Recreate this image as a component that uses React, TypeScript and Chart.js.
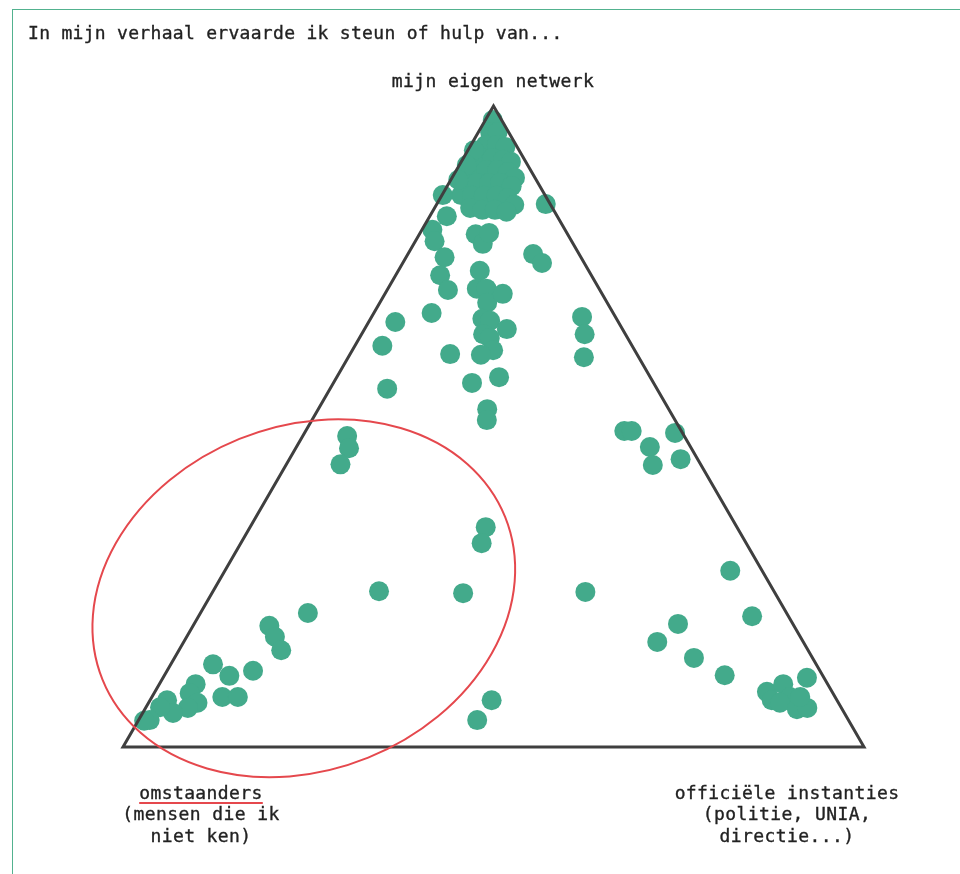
import React, { useEffect, useRef } from "react";
import { Chart, registerables } from "chart.js";

Chart.register(...registerables);

// Ternary shares (in %) per story: "mijn eigen netwerk" (top) and
// "officiële instanties" (right). "omstaanders" (left) = 100 - netwerk - officieel.
const netwerk = [
  97.8, 95.9, 95.9, 93.9, 93.9, 93.6, 91.9, 91.9, 91.6, 91.3,
  90.0, 90.0, 90.0, 89.7, 88.8, 88.1, 88.0, 88.0, 88.0, 87.5,
  86.1, 86.0, 86.0, 86.0, 85.6, 84.6, 84.1, 83.8, 83.8, 83.5,
  86.1, 82.8, 80.7, 78.9, 80.0, 78.5, 80.2, 84.7, 76.9, 75.5,
  76.4, 73.6, 71.3, 74.3, 71.5, 71.5, 69.3, 70.7, 66.8, 66.5,
  64.4, 63.8, 65.2, 61.9, 61.2, 61.3, 67.7, 66.3, 62.6, 55.9,
  56.8, 57.7, 52.7, 51.0,
  67.1, 64.4, 60.8,
  49.3, 49.3, 46.8, 44.0, 49.0, 44.9,
  48.5, 46.6, 44.1,
  34.3, 31.8, 24.3, 24.0, 24.2,
  7.3, 4.2,
  20.9, 18.9, 17.2, 15.1, 12.9, 11.1, 11.9, 7.8, 7.8, 9.8,
  8.4, 6.9, 6.1, 7.3, 5.3, 6.2, 4.2, 4.1,
  27.5, 20.4, 19.2, 16.4, 13.9, 11.2, 10.8, 8.6, 9.8, 7.8,
  7.3, 6.9, 5.9, 6.1, 7.8,
  93.1, 90.8, 88.5,
];

const officieel = [
  1.0, 1.6, 2.6, 2.0, 3.5, 4.8, 2.4, 3.9, 5.5, 6.7,
  2.5, 4.0, 5.5, 7.1, 8.5, 2.2, 3.8, 5.4, 6.9, 8.7,
  2.6, 4.1, 5.7, 7.4, 9.1, 10.5, 4.8, 6.6, 8.3, 10.0,
  0.1, 2.3, 1.4, 2.6, 7.6, 9.3, 9.3, 14.7, 16.9, 18.8,
  5.2, 6.0, 8.2, 11.0, 12.0, 13.3, 14.5, 15.9, 15.1, 16.3,
  16.4, 17.6, 19.2, 19.0, 17.7, 13.5, 7.8, 3.6, 3.7, 7.7,
  18.7, 21.9, 22.8, 23.6,
  28.4, 30.1, 31.8,
  43.0, 44.0, 47.7, 49.5, 50.0, 52.8,
  6.0, 7.2, 7.3,
  31.8, 32.5, 22.4, 33.9, 50.3,
  46.1, 45.7,
  14.5, 10.3, 11.9, 13.8, 5.7, 8.8, 11.6, 9.5, 11.6, 4.9,
  4.8, 6.6, 5.7, 2.3, 4.1, 1.9, 1.5, 0.8,
  68.2, 74.7, 65.3, 63.9, 70.1, 75.6, 86.9, 82.6, 84.2, 86.1,
  83.9, 85.2, 88.0, 89.3, 87.5,
  0.8, 1.0, 1.0,
];

const TITLE = "In mijn verhaal ervaarde ik steun of hulp van...";
const TOP_LABEL = "mijn eigen netwerk";
const LEFT_LABEL_MAIN = "omstaanders";
const LEFT_LABEL_SUB = ["(mensen die ik", "niet ken)"];
const RIGHT_LABEL = ["officiële instanties", "(politie, UNIA,", "directie...)"];

// Highlight ellipse around the "omstaanders" corner (in plot units).
const HIGHLIGHT = { cx: 24.4, cy: 23.2, rx: 29.3, ry: 23.2, rotationDeg: -22 };

const POINT_COLOR = "#43aa8b";
const RED = "#e5484d";
const FONT = "'DejaVu Sans Mono', monospace";

const ellipsePlugin = {
  id: "highlightEllipse",
  afterDatasetsDraw(chart: any) {
    const { ctx } = chart;
    const xs = chart.scales.x;
    const ys = chart.scales.y;
    const ux = xs.getPixelForValue(1) - xs.getPixelForValue(0);
    const cx = xs.getPixelForValue(HIGHLIGHT.cx);
    const cy = ys.getPixelForValue(HIGHLIGHT.cy);
    ctx.save();
    ctx.beginPath();
    ctx.ellipse(
      cx,
      cy,
      HIGHLIGHT.rx * ux,
      HIGHLIGHT.ry * ux,
      (HIGHLIGHT.rotationDeg * Math.PI) / 180,
      0,
      Math.PI * 2
    );
    ctx.strokeStyle = RED;
    ctx.lineWidth = 2;
    ctx.stroke();
    ctx.restore();
  },
};

export default function App() {
  const canvasRef = useRef<HTMLCanvasElement | null>(null);

  useEffect(() => {
    if (!canvasRef.current) return;
    const points = netwerk.map((n, i) => ({ x: officieel[i] + n / 2, y: n }));
    const triangle = [
      { x: 0, y: 0 },
      { x: 100, y: 0 },
      { x: 50, y: 100 },
      { x: 0, y: 0 },
      { x: 100, y: 0 },
    ];
    const chart = new Chart(canvasRef.current, {
      type: "scatter",
      data: {
        datasets: [
          {
            data: triangle,
            showLine: true,
            borderColor: "#3f3f3f",
            borderWidth: 3,
            borderJoinStyle: "miter",
            pointRadius: 0,
            pointHoverRadius: 0,
            order: 0,
          } as any,
          {
            data: points,
            backgroundColor: POINT_COLOR,
            borderWidth: 0,
            pointRadius: 10,
            pointHoverRadius: 10,
            order: 1,
          },
        ],
      },
      options: {
        animation: false,
        responsive: false,
        maintainAspectRatio: false,
        devicePixelRatio: 1,
        layout: { padding: 0, autoPadding: false },
        events: [],
        plugins: {
          legend: { display: false },
          tooltip: { enabled: false },
        },
        scales: {
          x: { type: "linear", min: -16.599, max: 112.955, display: false },
          y: { type: "linear", min: -19.813, max: 116.537, display: false },
        },
      } as any,
      plugins: [ellipsePlugin],
    });
    return () => chart.destroy();
  }, []);

  const textBase: React.CSSProperties = {
    position: "absolute",
    fontFamily: FONT,
    fontSize: 18,
    color: "#222",
    letterSpacing: "0.4px",
    whiteSpace: "pre",
    WebkitTextStroke: "0.35px #222",
  };

  return (
    <div
      style={{
        position: "absolute",
        left: 0,
        top: 0,
        width: 960,
        height: 874,
        overflow: "hidden",
        background: "#fff",
      }}
    >
      <div
        style={{
          position: "absolute",
          left: 12,
          top: 9,
          width: 2000,
          height: 2000,
          borderTop: "1px solid #52b28f",
          borderLeft: "1px solid #52b28f",
        }}
      />
      <canvas
        ref={canvasRef}
        width={960}
        height={874}
        style={{ position: "absolute", left: 0, top: 0, width: 960, height: 874, display: "block" }}
      />
      <div style={{ ...textBase, left: 28, top: 22, lineHeight: "22px", letterSpacing: "0.3px" }}>
        {TITLE}
      </div>
      <div
        style={{
          ...textBase,
          left: 343,
          width: 300,
          top: 70,
          lineHeight: "22px",
          textAlign: "center",
        }}
      >
        {TOP_LABEL}
      </div>
      <div
        style={{
          ...textBase,
          left: 51,
          width: 300,
          top: 782,
          lineHeight: "21.3px",
          textAlign: "center",
        }}
      >
        <div>
          <span
            style={{
              textDecoration: "underline",
              textDecorationColor: RED,
              textDecorationThickness: "2px",
              textUnderlineOffset: "3px",
            }}
          >
            {LEFT_LABEL_MAIN}
          </span>
        </div>
        {LEFT_LABEL_SUB.map((t) => (
          <div key={t}>{t}</div>
        ))}
      </div>
      <div
        style={{
          ...textBase,
          left: 637,
          width: 300,
          top: 782,
          lineHeight: "21.3px",
          textAlign: "center",
        }}
      >
        {RIGHT_LABEL.map((t) => (
          <div key={t}>{t}</div>
        ))}
      </div>
    </div>
  );
}
